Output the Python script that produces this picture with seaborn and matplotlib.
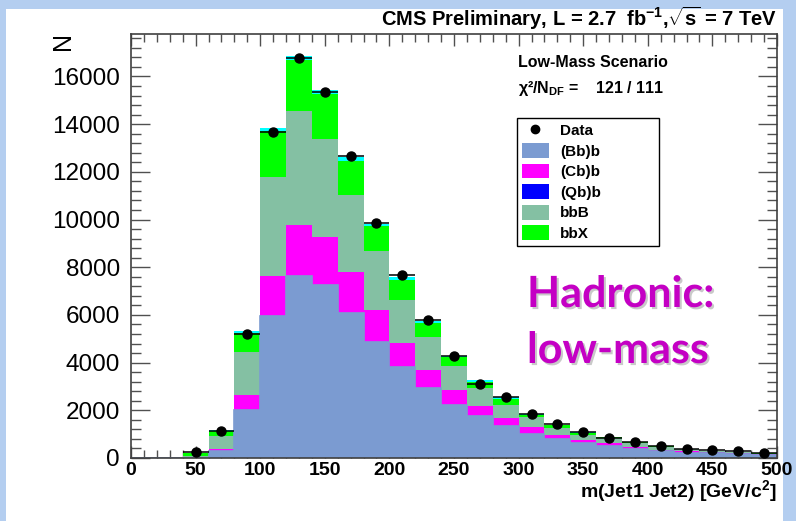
import numpy as np
import pandas as pd
import matplotlib
matplotlib.use("Agg")
import matplotlib.pyplot as plt
import matplotlib.patheffects as pe
from matplotlib.patches import Patch, Rectangle
from matplotlib.lines import Line2D
from matplotlib.ticker import MultipleLocator
import seaborn as sns

# Dijet mass histogram, 20 GeV bins from 0 to 500 GeV/c^2
bin_edges = np.arange(0, 520, 20)
bin_centers = bin_edges[:-1] + 10

data_counts = [0, 0, 235, 1145, 5199, 13669, 16784, 15346, 12646, 9853, 7657, 5786,
               4289, 3103, 2542, 1857, 1425, 1090, 839, 654, 486, 377, 319, 277, 210]
data_errors = [0, 0, 180, 60, 80, 120, 130, 125, 110, 100, 90, 75,
               65, 55, 50, 45, 40, 35, 30, 28, 25, 22, 150, 20, 18]

bb_b = [0, 0, 20, 306, 2025, 5937, 7614, 7237, 6080, 4847, 3816, 2935,
        2235, 1745, 1325, 1019, 809, 629, 516, 390, 293, 222, 193, 168, 138]
cb_b = [0, 0, 0, 84, 600, 1677, 2168, 2029, 1702, 1371, 1006, 767,
        600, 448, 352, 264, 168, 138, 113, 71, 55, 55, 42, 35, 30]
bbB = [0, 0, 60, 516, 1803, 4152, 4751, 4122, 3229, 2445, 1815, 1355,
       1006, 742, 558, 436, 281, 210, 200, 170, 110, 80, 55, 40, 20]
bbX = [0, 0, 120, 240, 813, 1957, 2167, 1874, 1454, 1048, 839, 603,
       394, 252, 252, 96, 109, 71, 40, 30, 25, 20, 10, 8, 5]
qb_b = [0, 0, 5, 40, 100, 113, 140, 151, 150, 113, 100, 80,
        50, 90, 60, 40, 30, 30, 20, 15, 10, 10, 6, 5, 5]

components = ["(Bb)b", "(Cb)b", "(Qb)b", "bbB", "bbX"]
component_counts = {"(Bb)b": bb_b, "(Cb)b": cb_b, "(Qb)b": qb_b, "bbB": bbB, "bbX": bbX}
legend_colors = {"(Bb)b": "#7B9BD1", "(Cb)b": "#FF00FF", "(Qb)b": "#0000FF",
                 "bbB": "#84C0A3", "bbX": "#00FF00"}
stack_colors = dict(legend_colors, **{"(Qb)b": "#00FFFF"})
# seaborn stacks the last hue level at the bottom
stack_order = ["(Qb)b", "bbX", "bbB", "(Cb)b", "(Bb)b"]

long_df = pd.DataFrame([
    {"mass": float(c), "count": float(v), "component": name}
    for name in components
    for c, v in zip(bin_centers, component_counts[name])
])

slide_blue = "#B4CEF0"
plt.rcParams.update({
    "font.family": ["Liberation Sans", "DejaVu Sans"],
    "mathtext.fontset": "custom",
    "mathtext.rm": "Liberation Sans:bold",
    "mathtext.it": "Liberation Sans:bold",
    "mathtext.bf": "Liberation Sans:bold",
})

fig = plt.figure(figsize=(7.96, 5.21), dpi=100, facecolor=slide_blue)
fig.patches.append(Rectangle((6 / 796, 0), 777 / 796, 512 / 521,
                             transform=fig.transFigure, facecolor="white",
                             edgecolor="none", zorder=-5))

ax = fig.add_axes([131 / 796, 1 - 458 / 521, 646 / 796, 424 / 521])
ax.set_zorder(1)
ax.set_facecolor("white")

sns.histplot(data=long_df, x="mass", weights="count", hue="component",
             hue_order=stack_order, palette=stack_colors, multiple="stack",
             binwidth=20, binrange=(0, 500), element="step", alpha=1,
             linewidth=0, legend=False, ax=ax)
ax.stairs(bb_b, bin_edges, color=legend_colors["(Bb)b"], lw=1.2, zorder=2)

counts = np.array(data_counts)
has_data = counts > 0
ax.errorbar(bin_centers[has_data], counts[has_data], xerr=10,
            yerr=np.array(data_errors)[has_data], fmt="o", color="black",
            ms=6.5, elinewidth=1.1, capsize=0, zorder=5)

ax.set_xlim(0, 500)
ax.set_ylim(0, 17780)
ax.set_xlabel("")
ax.set_ylabel("")
ax.set_axisbelow(True)

ax.xaxis.set_major_locator(MultipleLocator(50))
ax.xaxis.set_minor_locator(MultipleLocator(10))
ax.yaxis.set_major_locator(MultipleLocator(2000))
ax.yaxis.set_minor_locator(MultipleLocator(400))
ax.tick_params(which="both", direction="in", top=True, right=True,
               color="#505050", width=1.0)
ax.tick_params(axis="x", which="major", length=8.5, pad=3, labelsize=14)
ax.tick_params(axis="x", which="minor", length=5.5)
ax.tick_params(axis="y", which="major", length=14, pad=8, labelsize=17.5)
ax.tick_params(axis="y", which="minor", length=7)
for lab in ax.get_xticklabels():
    lab.set_fontweight("bold")
for side in ax.spines.values():
    side.set_color("#404040")
    side.set_linewidth(1.2)

# Axis titles and header in ROOT style
fig.text(777 / 796, 1 - 26 / 521,
         r"CMS Preliminary, L = 2.7  fb$^{-1}$,$\sqrt{s}$ = 7 TeV",
         ha="right", va="baseline", fontsize=14.5, fontweight="bold")
fig.text(777 / 796, 1 - 497 / 521, r"m(Jet1 Jet2) [GeV/c$^{2}$]",
         ha="right", va="baseline", fontsize=14, fontweight="bold")
fig.text(63 / 796, 1 - 41.5 / 521, "N", rotation=90, ha="center",
         va="center", fontsize=18)

fig.text(518 / 796, 1 - 67 / 521, "Low-Mass Scenario", ha="left",
         va="baseline", fontsize=11.5, fontweight="bold")
fig.text(518 / 796, 1 - 93 / 521, r"χ²/N$_{DF}$ =    121 / 111", ha="left",
         va="baseline", fontsize=11.5, fontweight="bold")

handles = [Line2D([], [], marker="o", color="black", ls="none", ms=6)]
handles += [Patch(facecolor=legend_colors[n], edgecolor="none") for n in components]
leg_x0 = (517 - 131) / 646
leg_top = (458 - 118) / 424
leg_w = (659 - 517) / 646
leg = ax.legend(handles, ["Data"] + components, loc="upper left", mode="expand",
                bbox_to_anchor=(leg_x0, leg_top - 0.3, leg_w, 0.3),
                borderaxespad=0, frameon=True, fancybox=False, framealpha=1,
                edgecolor="black", prop={"weight": "bold", "size": 11},
                handlelength=1.8, handleheight=1.1, labelspacing=0.33,
                borderpad=0.3, handletextpad=0.7)
leg.get_frame().set_linewidth(1.0)

shadow = [pe.withSimplePatchShadow(offset=(1.5, -1.5),
                                   shadow_rgbFace="#888888", alpha=0.45)]
for line, base in (("Hadronic:", 307), ("low-mass", 363)):
    fig.text(527 / 796, 1 - base / 521, line, ha="left", va="baseline",
             fontsize=31, fontweight="bold", family=["Lato", "DejaVu Sans"],
             color="#C400C4", path_effects=shadow, zorder=3)

fig.savefig("out.png", dpi=100, facecolor=fig.get_facecolor())
